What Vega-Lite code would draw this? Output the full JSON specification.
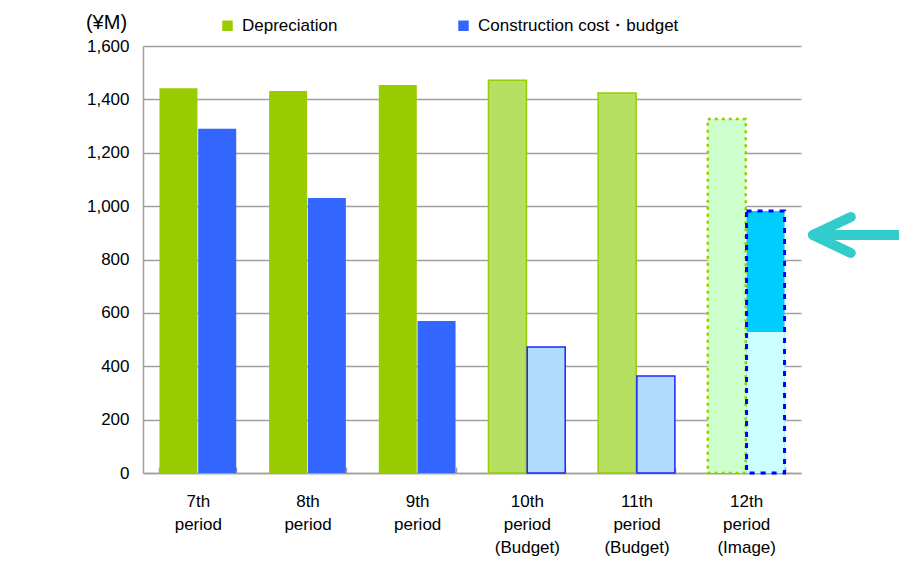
{
  "$schema": "https://vega.github.io/schema/vega-lite/v6.json",
  "width": 658,
  "height": 427,
  "autosize": "none",
  "padding": {"left": 143, "top": 46, "right": 98, "bottom": 93},
  "background": "white",
  "config": {
    "font": "Liberation Sans",
    "view": {"stroke": null},
    "axis": {"labelColor": "#000000", "titleColor": "#000000", "labelFont": "Liberation Sans", "titleFont": "Liberation Sans"}
  },
  "data": {
    "values": [
      {"period": "7th period", "series": "Depreciation", "kind": "actual", "value": 1442},
      {"period": "7th period", "series": "Construction cost・budget", "kind": "actual", "value": 1290},
      {"period": "8th period", "series": "Depreciation", "kind": "actual", "value": 1431},
      {"period": "8th period", "series": "Construction cost・budget", "kind": "actual", "value": 1030},
      {"period": "9th period", "series": "Depreciation", "kind": "actual", "value": 1454},
      {"period": "9th period", "series": "Construction cost・budget", "kind": "actual", "value": 570},
      {"period": "10th period (Budget)", "series": "Depreciation", "kind": "budget", "value": 1472},
      {"period": "10th period (Budget)", "series": "Construction cost・budget", "kind": "budget", "value": 472},
      {"period": "11th period (Budget)", "series": "Depreciation", "kind": "budget", "value": 1424},
      {"period": "11th period (Budget)", "series": "Construction cost・budget", "kind": "budget", "value": 363},
      {"period": "12th period (Image)", "series": "Depreciation", "kind": "image", "value": 1326},
      {"period": "12th period (Image)", "series": "Construction cost・budget", "kind": "image", "value": 982, "base": 528}
    ]
  },
  "encoding": {
    "x": {
      "field": "period",
      "type": "nominal",
      "sort": ["7th period", "8th period", "9th period", "10th period (Budget)", "11th period (Budget)", "12th period (Image)"],
      "scale": {"paddingInner": 0.3, "paddingOuter": 0.15},
      "axis": {
        "title": null,
        "labelAngle": 0,
        "labelExpr": "split(datum.label, ' ')",
        "labelFontSize": 17,
        "labelLineHeight": 23,
        "labelPadding": 26,
        "labelBaseline": "top",
        "tickBand": "extent",
        "tickSize": -6,
        "tickColor": "#A0A0A0",
        "tickWidth": 1.5,
        "domainColor": "#A0A0A0",
        "domainWidth": 1.5,
        "grid": false
      }
    },
    "xOffset": {
      "field": "series",
      "type": "nominal",
      "sort": ["Depreciation", "Construction cost・budget"],
      "scale": {"paddingInner": 0.02, "paddingOuter": 0}
    }
  },
  "layer": [
    {
      "mark": {"type": "bar", "strokeWidth": 1.5},
      "encoding": {
        "y": {
          "field": "value",
          "type": "quantitative",
          "scale": {"domain": [0, 1600], "nice": false},
          "axis": {
            "title": "(¥M)",
            "titleAngle": 0,
            "titleX": -37,
            "titleY": -24,
            "titleAlign": "center",
            "titleBaseline": "middle",
            "titleFontSize": 20,
            "titleFontWeight": "normal",
            "values": [0, 200, 400, 600, 800, 1000, 1200, 1400, 1600],
            "format": ",d",
            "labelFontSize": 17,
            "labelPadding": 14,
            "ticks": false,
            "grid": true,
            "gridColor": "#A0A0A0",
            "gridWidth": 1.5,
            "domainColor": "#A0A0A0",
            "domainWidth": 1.5
          }
        },
        "fill": {
          "condition": [
            {"test": "datum.kind === 'budget' && datum.series === 'Depreciation'", "value": "#B5E062"},
            {"test": "datum.kind === 'budget'", "value": "#B0DCFF"},
            {"test": "datum.kind === 'image' && datum.series === 'Depreciation'", "value": "#CCFFCC"},
            {"test": "datum.kind === 'image'", "value": "#00CCFF"}
          ],
          "field": "series",
          "type": "nominal",
          "sort": ["Depreciation", "Construction cost・budget"],
          "scale": {"domain": ["Depreciation", "Construction cost・budget"], "range": ["#99CC00", "#3366FF"]},
          "legend": {
            "title": null,
            "orient": "none",
            "legendX": 76,
            "legendY": -29,
            "direction": "horizontal",
            "columns": 2,
            "columnPadding": 117,
            "symbolType": "square",
            "symbolSize": 110,
            "symbolStrokeWidth": 0,
            "labelFontSize": 17,
            "labelOffset": 6,
            "labelColor": "#000000",
            "labelLimit": 300
          }
        },
        "stroke": {
          "condition": [
            {"test": "datum.kind === 'budget' && datum.series === 'Depreciation'", "value": "#99CC00"},
            {"test": "datum.kind === 'budget'", "value": "#2222FF"}
          ],
          "value": null
        }
      }
    },
    {
      "transform": [{"filter": "datum.kind === 'image' && datum.series !== 'Depreciation'"}],
      "mark": {"type": "bar", "fill": "#CCFFFF"},
      "encoding": {
        "y": {"field": "base", "type": "quantitative"}
      }
    },
    {
      "transform": [{"filter": "datum.kind === 'image' && datum.series === 'Depreciation'"}],
      "mark": {"type": "bar", "fill": null, "fillOpacity": 0, "stroke": "#99CC00", "strokeWidth": 2.5, "strokeDash": [3, 4]},
      "encoding": {
        "y": {"field": "value", "type": "quantitative"}
      }
    },
    {
      "transform": [{"filter": "datum.kind === 'image' && datum.series !== 'Depreciation'"}],
      "mark": {"type": "bar", "fill": null, "fillOpacity": 0, "stroke": "#0000FF", "strokeWidth": 3, "strokeDash": [5, 6]},
      "encoding": {
        "y": {"field": "value", "type": "quantitative"}
      }
    },
    {
      "data": {"values": [{"period": "12th period (Image)", "value": 892}]},
      "mark": {
        "type": "point",
        "shape": "M 2.86 -0.36 L 2.1 0 L 2.86 0.36 M 2.1 0 L 4.2 0",
        "size": 10000,
        "filled": false,
        "stroke": "#33CCCC",
        "strokeWidth": 10,
        "strokeCap": "round",
        "strokeJoin": "round",
        "opacity": 1
      },
      "encoding": {
        "x": {"field": "period", "type": "nominal"},
        "xOffset": {"value": 0},
        "y": {"field": "value", "type": "quantitative"}
      }
    }
  ]
}
